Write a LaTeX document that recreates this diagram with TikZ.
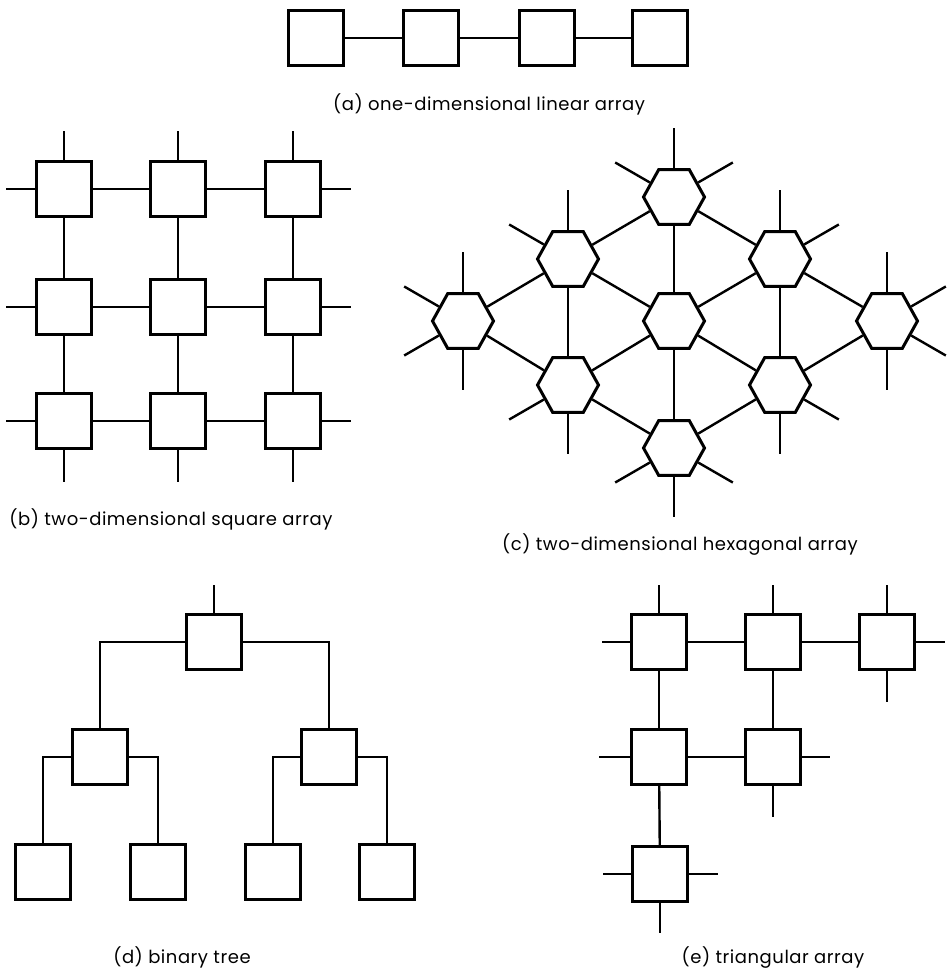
\documentclass[tikz,border=0pt]{standalone}
\usepackage{fontspec}
\setmainfont{Poppins}[LetterSpace=3]
\usetikzlibrary{shapes.geometric}
\begin{document}
\begin{tikzpicture}[
    x=1pt, y=1pt,
    every node/.style={font=\fontsize{18}{20}\selectfont},
    cell/.style={rectangle, draw, line width=3pt,
        minimum size=55pt, inner sep=0pt},
    hexcell/.style={regular polygon, regular polygon sides=6,
        draw, line width=3pt, minimum size=61pt, inner sep=0pt,
        yscale=1.04},
    wire/.style={line width=2.4pt},
    caption/.style={anchor=base}
  ]
  \useasboundingbox (0,0) rectangle (950,-972);

  % (a) linear array
  \node[cell] (a1) at (316,-38) {};
  \node[cell] (a2) at (431,-38) {};
  \node[cell] (a3) at (547,-38) {};
  \node[cell] (a4) at (660,-38) {};
  \draw[wire] (a1) -- (a2);
  \draw[wire] (a2) -- (a3);
  \draw[wire] (a3) -- (a4);
  \node[caption] (capa) at (489,-110) {(a) one-dimensional linear array};

  % (b) square array
  \node[cell] (b11) at (64,-189) {};
  \node[cell] (b12) at (178,-189) {};
  \node[cell] (b13) at (293,-189) {};
  \node[cell] (b21) at (64,-307) {};
  \node[cell] (b22) at (178,-307) {};
  \node[cell] (b23) at (293,-307) {};
  \node[cell] (b31) at (64,-421) {};
  \node[cell] (b32) at (178,-421) {};
  \node[cell] (b33) at (293,-421) {};
  \draw[wire] (b11) -- (b12);
  \draw[wire] (b12) -- (b13);
  \draw[wire] (b21) -- (b22);
  \draw[wire] (b22) -- (b23);
  \draw[wire] (b31) -- (b32);
  \draw[wire] (b32) -- (b33);
  \draw[wire] (b11) -- (b21);
  \draw[wire] (b21) -- (b31);
  \draw[wire] (b12) -- (b22);
  \draw[wire] (b22) -- (b32);
  \draw[wire] (b13) -- (b23);
  \draw[wire] (b23) -- (b33);
  \draw[wire] (b11.north) -- ++(0,29);
  \draw[wire] (b12.north) -- ++(0,29);
  \draw[wire] (b13.north) -- ++(0,29);
  \draw[wire] (b31.south) -- ++(0,-32);
  \draw[wire] (b32.south) -- ++(0,-32);
  \draw[wire] (b33.south) -- ++(0,-32);
  \draw[wire] (b11.west) -- ++(-29,0);
  \draw[wire] (b21.west) -- ++(-29,0);
  \draw[wire] (b31.west) -- ++(-29,0);
  \draw[wire] (b13.east) -- ++(29,0);
  \draw[wire] (b23.east) -- ++(29,0);
  \draw[wire] (b33.east) -- ++(29,0);
  \node[caption] (capb) at (171,-525) {(b) two-dimensional square array};

  % (c) hexagonal array
  \node[hexcell] (hT)  at (674,-197) {};
  \node[hexcell] (hUL) at (568,-259) {};
  \node[hexcell] (hUR) at (780,-259) {};
  \node[hexcell] (hL)  at (463,-321) {};
  \node[hexcell] (hC)  at (674,-321) {};
  \node[hexcell] (hR)  at (887,-321) {};
  \node[hexcell] (hDL) at (568,-385) {};
  \node[hexcell] (hDR) at (780,-385) {};
  \node[hexcell] (hB)  at (674,-448) {};
  \draw[wire] (hT) -- (hUL);
  \draw[wire] (hT) -- (hUR);
  \draw[wire] (hT) -- (hC);
  \draw[wire] (hUL) -- (hL);
  \draw[wire] (hUL) -- (hC);
  \draw[wire] (hUL) -- (hDL);
  \draw[wire] (hUR) -- (hC);
  \draw[wire] (hUR) -- (hR);
  \draw[wire] (hUR) -- (hDR);
  \draw[wire] (hL) -- (hDL);
  \draw[wire] (hC) -- (hDL);
  \draw[wire] (hC) -- (hDR);
  \draw[wire] (hC) -- (hB);
  \draw[wire] (hR) -- (hDR);
  \draw[wire] (hDL) -- (hB);
  \draw[wire] (hDR) -- (hB);
  % free ends
  \draw[wire] (hT.90) -- ++(90:40);
  \draw[wire] (hT.150) -- ++(150:40);
  \draw[wire] (hT.30) -- ++(30:40);
  \draw[wire] (hUL.90) -- ++(90:40);
  \draw[wire] (hUL.150) -- ++(150:40);
  \draw[wire] (hUR.90) -- ++(90:40);
  \draw[wire] (hUR.30) -- ++(30:40);
  \draw[wire] (hL.90) -- ++(90:40);
  \draw[wire] (hL.150) -- ++(150:40);
  \draw[wire] (hL.210) -- ++(210:40);
  \draw[wire] (hL.270) -- ++(270:40);
  \draw[wire] (hR.90) -- ++(90:40);
  \draw[wire] (hR.30) -- ++(30:40);
  \draw[wire] (hR.330) -- ++(330:40);
  \draw[wire] (hR.270) -- ++(270:40);
  \draw[wire] (hDL.270) -- ++(270:40);
  \draw[wire] (hDL.210) -- ++(210:40);
  \draw[wire] (hDR.270) -- ++(270:40);
  \draw[wire] (hDR.330) -- ++(330:40);
  \draw[wire] (hB.270) -- ++(270:40);
  \draw[wire] (hB.210) -- ++(210:40);
  \draw[wire] (hB.330) -- ++(330:40);
  \node[caption] (capc) at (680,-550) {(c) two-dimensional hexagonal array};

  % (d) binary tree
  \node[cell] (root) at (214,-642) {};
  \node[cell] (tl)   at (100,-757) {};
  \node[cell] (tr)   at (329,-757) {};
  \node[cell] (tll)  at (43,-872) {};
  \node[cell] (tlr)  at (158,-872) {};
  \node[cell] (trl)  at (273,-872) {};
  \node[cell] (trr)  at (387,-872) {};
  \draw[wire] (root.north) -- ++(0,28);
  \draw[wire] (root.west) -| (tl.north);
  \draw[wire] (root.east) -| (tr.north);
  \draw[wire] (tl.west) -| (tll.north);
  \draw[wire] (tl.east) -| (tlr.north);
  \draw[wire] (tr.west) -| (trl.north);
  \draw[wire] (tr.east) -| (trr.north);
  \node[caption] (capd) at (182,-963) {(d) binary tree};

  % (e) triangular array
  \node[cell] (e11) at (659,-642) {};
  \node[cell] (e12) at (773,-642) {};
  \node[cell] (e13) at (887,-642) {};
  \node[cell] (e21) at (659,-757) {};
  \node[cell] (e22) at (773,-757) {};
  \node[cell] (e31) at (660,-874) {};
  \draw[wire] (e11) -- (e12);
  \draw[wire] (e12) -- (e13);
  \draw[wire] (e21) -- (e22);
  \draw[wire] (e11) -- (e21);
  \draw[wire] (e21) -- (e31);
  \draw[wire] (e12) -- (e22);
  \draw[wire] (e11.north) -- ++(0,28);
  \draw[wire] (e12.north) -- ++(0,28);
  \draw[wire] (e13.north) -- ++(0,28);
  \draw[wire] (e11.west) -- ++(-28,0);
  \draw[wire] (e13.east) -- ++(29,0);
  \draw[wire] (e13.south) -- ++(0,-31);
  \draw[wire] (e21.west) -- ++(-31,0);
  \draw[wire] (e22.east) -- ++(28,0);
  \draw[wire] (e22.south) -- ++(0,-31);
  \draw[wire] (e31.west) -- ++(-28,0);
  \draw[wire] (e31.east) -- ++(29,0);
  \draw[wire] (e31.south) -- ++(0,-30);
  \node[caption] (cape) at (773,-963) {(e) triangular array};
\end{tikzpicture}
\end{document}
